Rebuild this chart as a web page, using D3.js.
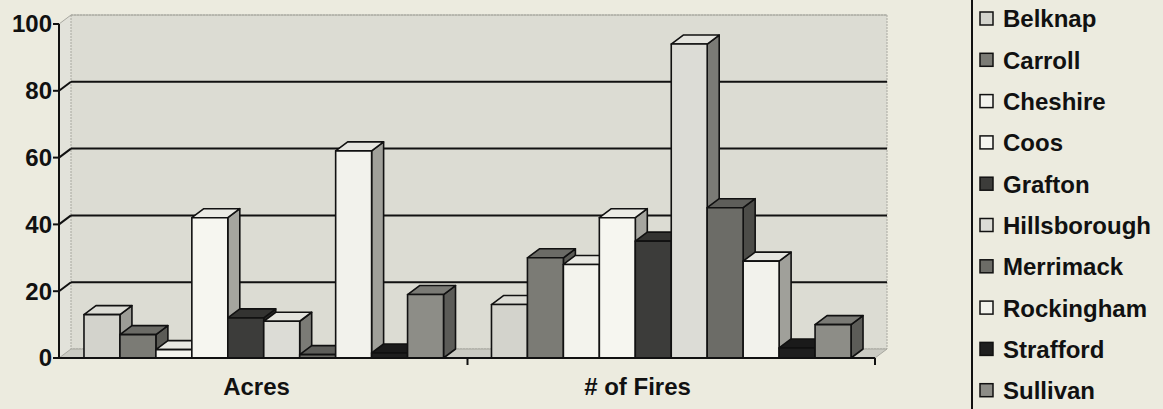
<!DOCTYPE html>
<html>
<head>
<meta charset="utf-8">
<title>Fires by county</title>
<script src="https://cdn.jsdelivr.net/npm/d3@7"></script>
<style>
    body { margin: 0; background: #ecebdf; }
    svg { display: block; }
    text { font-family: "Liberation Sans", Arial, sans-serif; font-weight: bold; fill: #111; }
</style>
</head>
<body>
<div id="chart"></div>
<script>
    const width = 1163, height = 409;

    // data
    const categories = ["Acres", "# of Fires"];
    const counties = ["Belknap", "Carroll", "Cheshire", "Coos", "Grafton",
        "Hillsborough", "Merrimack", "Rockingham", "Strafford", "Sullivan"];
    const acres = [13, 7, 2.5, 42, 12, 11, 1, 62, 1.5, 19];
    const fires = [16, 30, 28, 42, 35, 94, 45, 29, 3, 10];
    const yTicks = [0, 20, 40, 60, 80, 100];

    // face shades per county: front, side, top
    const frontFill = ["#d3d3cc", "#7b7b75", "#f3f3ed", "#f6f6f0", "#3c3c3a",
        "#dcdcd6", "#6c6c67", "#f2f2ec", "#1e1e1e", "#8d8d87"];
    const sideFill = ["#9c9c96", "#5b5b56", "#c8c8c2", "#a5a59f", "#2a2a28",
        "#7b7b76", "#4c4c48", "#a0a09a", "#141414", "#5c5c58"];
    const topFill = ["#dcdcd5", "#6b6b66", "#e8e8e2", "#ebebe5", "#333331",
        "#e4e4de", "#5e5e5a", "#e6e6e0", "#1a1a1a", "#7a7a75"];

    const values = { "Acres": acres, "# of Fires": fires };

    const axisX = 59, plotRight = 875, baseY = 358;
    const DX = 12, DY = -9;   // depth of the 3d box

    const x0 = d3.scaleBand().domain(categories).range([60, plotRight]);
    const x1 = d3.scaleBand().domain(counties).range([0, x0.bandwidth()])
        .paddingInner(0).paddingOuter(0.667);
    const labelX = d3.scaleBand().domain(categories).range([66, 828]);
    const y = d3.scaleLinear().domain([0, 100]).range([baseY, 24]);

    const svg = d3.select("#chart").append("svg")
        .attr("width", width)
        .attr("height", height);

    const pts = a => a.map(p => p.join(",")).join(" ");

    // walls and floor
    svg.append("polygon")
        .attr("points", pts([[axisX, y(100)], [axisX + DX, y(100) + DY], [axisX + DX, baseY + DY], [axisX, baseY]]))
        .attr("fill", "#e2e2da");
    svg.append("polygon")
        .attr("points", pts([[axisX + DX, y(100) + DY], [plotRight + DX, y(100) + DY],
            [plotRight + DX, baseY + DY], [axisX + DX, baseY + DY]]))
        .attr("fill", "#dcdcd3")
        .attr("stroke", "#a8a8a0")
        .attr("stroke-width", 1)
        .attr("stroke-dasharray", "2,1");
    svg.append("polygon")
        .attr("points", pts([[axisX, baseY], [plotRight, baseY], [plotRight + DX, baseY + DY], [axisX + DX, baseY + DY]]))
        .attr("fill", "#cbcbc3")
        .attr("stroke", "#a8a8a0")
        .attr("stroke-width", 1);

    // gridlines on back wall and side wall
    const grid = svg.append("g");
    yTicks.filter(d => d > 0).forEach(v => {
        const col = v === 100 ? "#a8a8a0" : "#111";
        const sw = v === 100 ? 1 : 2;
        grid.append("line")
            .attr("x1", axisX + DX).attr("x2", plotRight + DX)
            .attr("y1", y(v) + DY).attr("y2", y(v) + DY)
            .attr("stroke", col).attr("stroke-width", sw);
        grid.append("line")
            .attr("x1", axisX).attr("x2", axisX + DX)
            .attr("y1", y(v)).attr("y2", y(v) + DY)
            .attr("stroke", col).attr("stroke-width", sw);
    });

    // bars
    categories.forEach(cat => {
        const g = svg.append("g");
        counties.forEach((name, i) => {
            const v = values[cat][i];
            const x = x0(cat) + x1(name), w = x1.bandwidth(), top = y(v);
            const b = g.append("g")
                .attr("stroke", "#111")
                .attr("stroke-width", 1.6)
                .attr("stroke-linejoin", "round");
            b.append("polygon")
                .attr("points", pts([[x + w, top], [x + w + DX, top + DY], [x + w + DX, baseY + DY], [x + w, baseY]]))
                .attr("fill", sideFill[i]);
            b.append("polygon")
                .attr("points", pts([[x, top], [x + DX, top + DY], [x + w + DX, top + DY], [x + w, top]]))
                .attr("fill", topFill[i]);
            b.append("rect")
                .attr("x", x).attr("y", top)
                .attr("width", w).attr("height", baseY - top)
                .attr("fill", frontFill[i]);
        });
    });

    // value axis
    svg.append("line")
        .attr("x1", axisX).attr("x2", axisX)
        .attr("y1", y(100)).attr("y2", baseY + 1)
        .attr("stroke", "#111").attr("stroke-width", 2);
    yTicks.forEach(v => {
        svg.append("line")
            .attr("x1", axisX - 6).attr("x2", axisX)
            .attr("y1", y(v)).attr("y2", y(v))
            .attr("stroke", "#111").attr("stroke-width", 2);
        svg.append("text")
            .attr("x", axisX - 7)
            .attr("y", y(v))
            .attr("dy", "0.35em")
            .attr("text-anchor", "end")
            .attr("font-size", "24px")
            .text(v);
    });

    // category axis
    svg.append("line")
        .attr("x1", axisX).attr("x2", plotRight)
        .attr("y1", baseY).attr("y2", baseY)
        .attr("stroke", "#111").attr("stroke-width", 2);
    [x0(categories[1]), plotRight].forEach(t => {
        svg.append("line")
            .attr("x1", t).attr("x2", t)
            .attr("y1", baseY).attr("y2", baseY + 7)
            .attr("stroke", "#111").attr("stroke-width", 2);
    });
    categories.forEach(cat => {
        svg.append("text")
            .attr("x", labelX(cat) + labelX.bandwidth() / 2)
            .attr("y", 387)
            .attr("dy", "0.35em")
            .attr("text-anchor", "middle")
            .attr("font-size", "24px")
            .text(cat);
    });

    // legend
    svg.append("line")
        .attr("x1", 972).attr("x2", 972)
        .attr("y1", 0).attr("y2", height)
        .attr("stroke", "#111").attr("stroke-width", 2);
    const legend = svg.append("g")
        .selectAll("g")
        .data(counties)
        .join("g")
        .attr("transform", (d, i) => "translate(980," + (19 + i * 41.3) + ")");
    legend.append("rect")
        .attr("x", 0).attr("y", -7)
        .attr("width", 13).attr("height", 13)
        .attr("fill", (d, i) => frontFill[i])
        .attr("stroke", "#111").attr("stroke-width", 1.5);
    legend.append("text")
        .attr("x", 23)
        .attr("dy", "0.35em")
        .attr("font-size", "24px")
        .text(d => d);
</script>
</body>
</html>
